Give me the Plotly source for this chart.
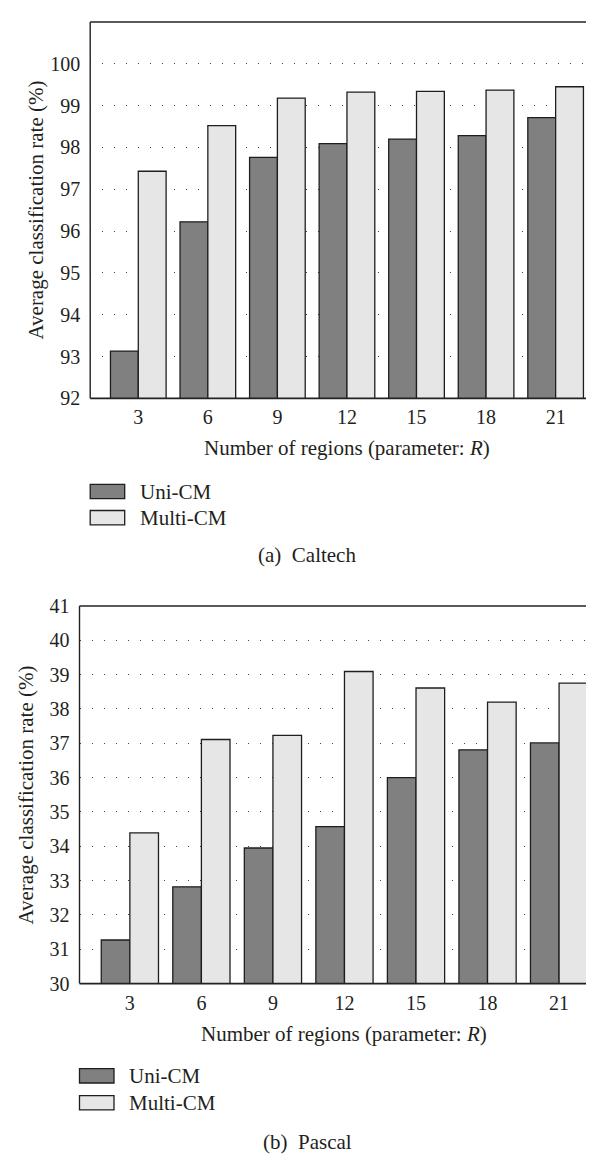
import plotly.graph_objects as go

# ---------------- data ----------------
regions = [3, 6, 9, 12, 15, 18, 21]
series_names = ["Uni-CM", "Multi-CM"]

caltech_uni = [93.13, 96.22, 97.76, 98.09, 98.20, 98.28, 98.71]
caltech_multi = [97.43, 98.52, 99.18, 99.32, 99.34, 99.37, 99.45]

pascal_uni = [31.27, 32.82, 33.95, 34.57, 36.00, 36.81, 37.01]
pascal_multi = [34.39, 37.11, 37.23, 39.09, 38.61, 38.20, 38.75]

caltech_ticks = [92, 93, 94, 95, 96, 97, 98, 99, 100]
pascal_ticks = [30, 31, 32, 33, 34, 35, 36, 37, 38, 39, 40, 41]

x_title = "Number of regions (parameter: <i>R</i>)"
y_title = "Average classification rate (%)"
captions = ["(a)  Caltech", "(b)  Pascal"]

# ---------------- style ----------------
W, H = 594, 1158
FONT = "Liberation Serif"
TXT = "#231f20"
FS = 21
TFS = 20
fills = ["#808080", "#e6e6e6"]
edge = "#1e1e1e"


def px(x):
    return x / W


def py(y):
    return 1 - y / H


fig = go.Figure()

panels = [
    dict(uni=caltech_uni, multi=caltech_multi, xa="x", ya="y",
         left=82.2, top=3.0, bottom=386.7, xr=[0.926, 23.0], yr=[92, 101],
         ticks=caltech_ticks, xt_y=437.3, xt_x=339, leg_y=[481.7, 508.3],
         cap_y=546.7, cap_x=299, yt_x=28.4),
    dict(uni=pascal_uni, multi=pascal_multi, xa="x2", ya="y2",
         left=71.5, top=598.3, bottom=983.3, xr=[0.888, 22.80], yr=[30, 41],
         ticks=pascal_ticks, xt_y=1035, xt_x=335.6, leg_y=[1077.3, 1104.7],
         cap_y=1145, cap_x=299.8, yt_x=17.8),
]

shapes = []
annotations = []

for i, p in enumerate(panels):
    for name, vals, col in zip(series_names, [p["uni"], p["multi"]], fills):
        fig.add_trace(go.Bar(
            x=regions, y=vals, name=name, xaxis=p["xa"], yaxis=p["ya"],
            marker=dict(color=col, line=dict(color=edge, width=1.3)),
            showlegend=False,
        ))
    sfx = "" if i == 0 else "2"
    xdom = [px(p["left"]), 1.0]
    ydom = [py(p["bottom"]), py(p["top"])]
    fig.update_layout(**{
        "xaxis" + sfx: dict(
            domain=xdom, range=p["xr"], anchor="y" + sfx,
            tickvals=regions, ticktext=[str(r) for r in regions],
            showgrid=False, zeroline=False, showline=False,
            ticks="", ticklabelstandoff=5,
            tickfont=dict(family=FONT, size=TFS, color=TXT),
        ),
        "yaxis" + sfx: dict(
            domain=ydom, range=p["yr"], anchor="x" + sfx,
            tickvals=p["ticks"], showgrid=True, gridcolor="#444444",
            gridwidth=1, griddash="1px,11px", zeroline=False, showline=False,
            ticks="", ticklabelstandoff=9,
            tickfont=dict(family=FONT, size=TFS, color=TXT),
        ),
    })
    L, T, B = px(p["left"]), py(p["top"]), py(p["bottom"])
    # frame: left, bottom, top
    shapes += [
        dict(type="line", xref="paper", yref="paper", x0=L, x1=L, y0=B, y1=T,
             line=dict(color="#222222", width=1.4), layer="above"),
        dict(type="line", xref="paper", yref="paper", x0=L, x1=1.02, y0=B, y1=B,
             line=dict(color="#222222", width=1.8), layer="above"),
        dict(type="line", xref="paper", yref="paper", x0=L, x1=1.02, y0=T, y1=T,
             line=dict(color="#222222", width=1.6), layer="above"),
    ]
    # axis titles
    annotations.append(dict(
        text=x_title, xref="paper", yref="paper", x=px(p["xt_x"]), y=py(p["xt_y"]),
        xanchor="center", yanchor="middle", showarrow=False,
        font=dict(family=FONT, size=FS, color=TXT)))
    annotations.append(dict(
        text=y_title, xref="paper", yref="paper", x=px(p["yt_x"]),
        y=py((p["top"] + p["bottom"]) / 2), textangle=-90,
        xanchor="center", yanchor="middle", showarrow=False,
        font=dict(family=FONT, size=FS, color=TXT)))
    # legend (swatches + labels)
    for name, col, ly in zip(series_names, fills, p["leg_y"]):
        shapes.append(dict(
            type="rect", xref="paper", yref="paper",
            x0=px(p["left"]), x1=px(p["left"] + 34.5),
            y0=py(ly + 7.3), y1=py(ly - 7.3),
            fillcolor=col, line=dict(color=edge, width=1.3)))
        annotations.append(dict(
            text=name, xref="paper", yref="paper", x=px(p["left"] + 47.5), y=py(ly),
            xanchor="left", yanchor="middle", showarrow=False,
            font=dict(family=FONT, size=FS, color=TXT)))
    # caption
    annotations.append(dict(
        text=captions[i], xref="paper", yref="paper", x=px(p["cap_x"]), y=py(p["cap_y"]),
        xanchor="center", yanchor="middle", showarrow=False,
        font=dict(family=FONT, size=FS, color=TXT)))

fig.update_layout(
    width=W, height=H,
    margin=dict(l=0, r=0, t=0, b=0),
    paper_bgcolor="white", plot_bgcolor="white",
    barmode="group", bargap=0.2, bargroupgap=0.0,
    shapes=shapes, annotations=annotations,
    showlegend=False,
)

fig.write_html("out.html")
